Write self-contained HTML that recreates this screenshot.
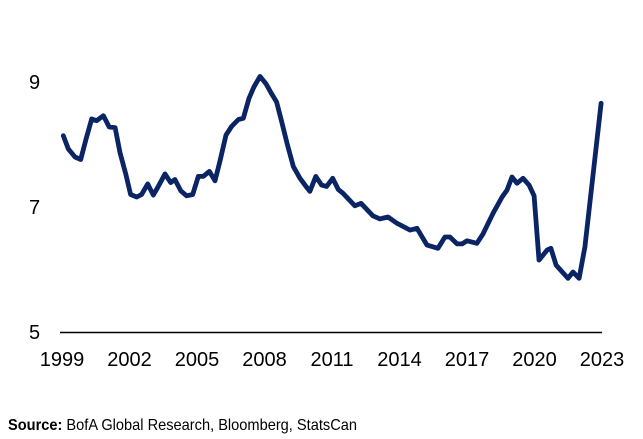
<!DOCTYPE html>
<html><head><meta charset="utf-8"><style>
html,body{margin:0;padding:0;background:#fff;}
svg{display:block;}
text{font-family:"Liberation Sans Narrow","Liberation Sans",sans-serif;fill:#000;}
</style></head><body>
<svg id="chart" width="643" height="439">
<line x1="60" y1="332.5" x2="602" y2="332.5" stroke="#000" stroke-width="1.5"/>
<g id="yt"></g><g id="xt"></g>
<path id="line" fill="none" stroke="#0a2464" stroke-width="4.8" stroke-linejoin="round" stroke-linecap="round"/>
<text x="8" y="430" font-size="16" textLength="349" lengthAdjust="spacingAndGlyphs"><tspan font-weight="bold">Source:</tspan> BofA Global Research, Bloomberg, StatsCan</text>
</svg>
<script>
const years=[1999.06,1999.28,1999.58,1999.83,2000.07,2000.32,2000.54,2000.84,2001.10,2001.36,2001.58,2001.84,2002.05,2002.32,2002.54,2002.81,2003.06,2003.28,2003.58,2003.83,2004.02,2004.28,2004.54,2004.81,2005.06,2005.28,2005.55,2005.80,2006.02,2006.29,2006.54,2006.84,2007.06,2007.31,2007.53,2007.80,2008.07,2008.32,2008.54,2008.76,2009.01,2009.28,2009.58,2009.80,2010.02,2010.28,2010.54,2010.76,2011.03,2011.28,2011.49,2012.02,2012.29,2012.82,2013.13,2013.49,2013.89,2014.47,2014.78,2015.22,2015.71,2016.02,2016.24,2016.56,2016.78,2017.00,2017.44,2017.71,2018.16,2018.56,2018.78,2019.00,2019.22,2019.49,2019.76,2019.98,2020.20,2020.56,2020.73,2020.96,2021.49,2021.71,2021.98,2022.24,2022.96];
const values=[8.14,7.93,7.80,7.76,8.09,8.41,8.38,8.46,8.28,8.27,7.87,7.52,7.20,7.16,7.20,7.37,7.19,7.33,7.53,7.39,7.44,7.26,7.18,7.20,7.49,7.49,7.57,7.42,7.73,8.15,8.29,8.40,8.42,8.74,8.92,9.09,8.97,8.81,8.68,8.37,8.01,7.65,7.46,7.35,7.25,7.49,7.35,7.33,7.46,7.28,7.22,7.02,7.06,6.86,6.81,6.84,6.74,6.63,6.66,6.39,6.34,6.52,6.52,6.41,6.41,6.46,6.42,6.57,6.90,7.16,7.27,7.48,7.38,7.46,7.35,7.18,6.15,6.31,6.34,6.07,5.86,5.96,5.86,6.36,8.66];
const yTicks=[5,7,9];
const xTicks=[1999,2002,2005,2008,2011,2014,2017,2020,2023];
const NS="http://www.w3.org/2000/svg";
function X(t){return 62+(t-1999)*22.5;}
function Y(v){return 332-(v-5)*62.5;}
const yt=document.getElementById('yt'),xt=document.getElementById('xt');
yTicks.forEach(v=>{const t=document.createElementNS(NS,'text');
t.setAttribute('x',29);t.setAttribute('y',Y(v)+7);t.setAttribute('font-size','20');


t.textContent=v;yt.appendChild(t);});
xTicks.forEach(v=>{const t=document.createElementNS(NS,'text');
t.setAttribute('x',X(v));t.setAttribute('y',366);t.setAttribute('font-size','20');t.setAttribute('text-anchor','middle');


t.textContent=v;xt.appendChild(t);});
document.getElementById('line').setAttribute('d',years.map((t,i)=>(i?'L':'M')+X(t).toFixed(1)+','+Y(values[i]).toFixed(1)).join(''));
</script>
</body></html>
